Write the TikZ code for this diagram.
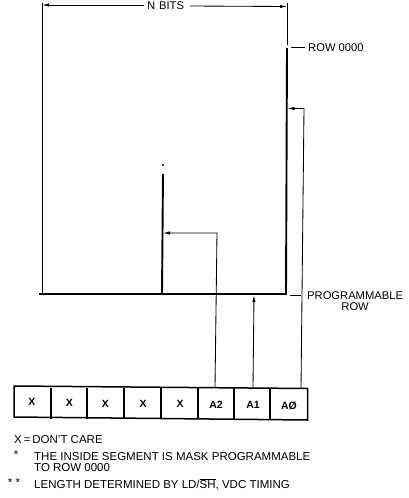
\documentclass[tikz,border=0pt]{standalone}
\usepackage{fontspec}
\setmainfont{Liberation Sans}
\usetikzlibrary{arrows.meta}
\tikzset{
  thinln/.style={line width=0.85pt,black},
  thickln/.style={line width=1.9pt,black},
  tip/.style={-{Latex[length=7pt,width=3.4pt]}},
  lab/.style={inner sep=0pt,font=\fontsize{11.2}{12}\selectfont,black},
  note/.style={inner sep=0pt,font=\fontsize{11.5}{10.5}\selectfont,black},
  cell/.style={inner sep=0pt,font=\fontsize{10.5}{11}\selectfont\bfseries,black},
}
\newcommand{\barred}[1]{\setbox0=\hbox{#1}\leavevmode\rlap{\raisebox{9pt}{\rule{\wd0}{0.7pt}}}\box0}
\begin{document}
\begin{tikzpicture}[x=1pt,y=-1pt]
\useasboundingbox (0,0) rectangle (409,498);
% N BITS dimension
\node[lab] (nbits) at (165.5,6) {N\hspace{4pt}BITS};
\coordinate (tl) at (42,3);
\coordinate (bl) at (42,294);
\coordinate (tr) at (287,3);
\coordinate (rg) at (287,45);
\draw[thinln] (tl) -- (bl);
\draw[thinln] (tr) -- (rg);
\coordinate (dl) at (42,5);
\coordinate (dr) at (287,6.5);
\coordinate (nl) at (144,5);
\coordinate (nr) at (190,6);
\draw[thinln,tip] (nl) -- (dl);
\draw[thinln,tip] (nr) -- (dr);
% raster outline
\coordinate (b0) at (39,294);
\coordinate (br) at (286,294);
\coordinate (rt) at (287,48);
\coordinate (ib) at (162,294);
\coordinate (it) at (163,174);
\draw[thickln] (b0) -- (br) -- (rt);
\draw[thickln] (ib) -- (it);
\node[circle,fill=black,inner sep=0pt,minimum size=2.4pt] (dot) at (163,165) {};
% row labels
\node[lab,anchor=west] (row0) at (308,47.5) {ROW 0000};
\coordinate (r0a) at (291,47.5);
\coordinate (r0b) at (305,47.5);
\draw[thinln,line width=1pt] (r0a) -- (r0b);
\node[lab,align=center,anchor=north west] (prow) at (307,291) {PROGRAMMABLE\\[-0.5pt]ROW};
\coordinate (pa) at (290,295);
\coordinate (pb) at (301,295);
\draw[thinln,line width=1pt] (pa) -- (pb);
% register cells
\coordinate (c0) at (14,386);
\coordinate (c1) at (307.5,388.5);
\coordinate (c2) at (307.5,420);
\coordinate (c3) at (14,417);
\draw[line width=1.5pt,black] (c0) -- (c1) -- (c2) -- (c3) -- cycle;
\foreach \x/\n in {51/a,87/b,124/c,161/d,198/e,234/f,270/g}{
  \coordinate (\n t) at (\x,387.5);
  \coordinate (\n b) at (\x,418.5);
  \draw[line width=1.1pt,black] (\n t) -- (\n b);
}
\node[cell] (x1) at (32,402) {X};
\node[cell] (x2) at (69.5,403) {X};
\node[cell] (x3) at (105.5,403.5) {X};
\node[cell] (x4) at (143,403.5) {X};
\node[cell] (x5) at (180,403.5) {X};
\node[cell] (a2) at (216,405) {A2};
\node[cell] (a1) at (253,405) {A1};
\node[cell] (a0) at (289,405.5) {A\O};
% address lines
\coordinate (a2t) at (215,387.5);
\coordinate (a2k) at (217,233);
\coordinate (a2e) at (163,233);
\draw[thinln,tip] (a2t) -- (a2k) -- (a2e);
\coordinate (a1t) at (253,387.5);
\coordinate (a1e) at (254,295);
\draw[thinln,tip] (a1t) -- (a1e);
\coordinate (a0t) at (301,388.5);
\coordinate (a0k) at (304,108.5);
\coordinate (a0e) at (287.5,108.5);
\draw[thinln,tip] (a0t) -- (a0k) -- (a0e);
% notes
\node[note,anchor=west] (n1) at (14,440) {X\,=\,DON'T CARE};
\node[note] (st1) at (16,455) {*};
\node[note,anchor=west] (n2) at (34,457) {THE INSIDE SEGMENT IS MASK PROGRAMMABLE};
\node[note,anchor=west] (n2b) at (34,468) {TO ROW 0000};
\node[note] (st2) at (14,483) {* *};
\node[note,anchor=west] (n3) at (34,484.5) {LENGTH DETERMINED BY LD/\barred{SH}, VDC TIMING};
\end{tikzpicture}
\end{document}
